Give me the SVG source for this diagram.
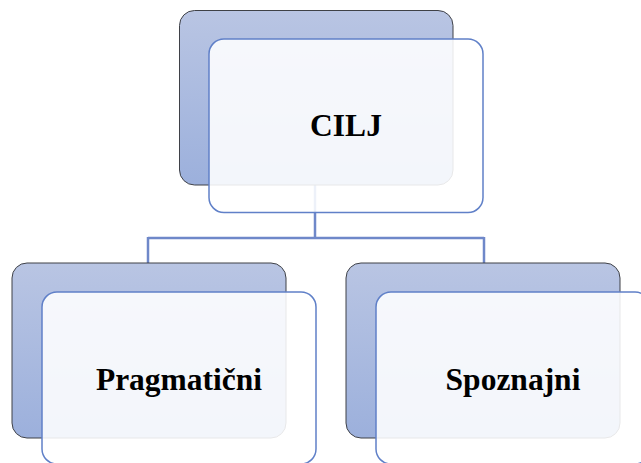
<svg xmlns="http://www.w3.org/2000/svg" width="641" height="463" viewBox="0 0 641 463">
<defs>
<linearGradient id="bg" x1="0" y1="0" x2="0" y2="1">
<stop offset="0" stop-color="#b9c5e3"/>
<stop offset="1" stop-color="#9cb0dc"/>
</linearGradient>
<style>
.back{fill:url(#bg);stroke:#3f4147;stroke-width:1}
.front{fill:#ffffff;fill-opacity:0.88;stroke:#6080c8;stroke-width:1.5}
.conn{fill:none;stroke:#6f88c9;stroke-width:2.5}
.lbl{font-family:"Liberation Serif","Times New Roman",serif;font-weight:bold;font-size:31.5px;fill:#000;text-anchor:middle}
</style>
</defs>
<rect width="641" height="463" fill="#ffffff"/>
<g id="connectors">
<path class="conn" d="M315,185 V238 M148,238 H484 M148,237 V263 M484,237 V263"/>
</g>
<g id="node-cilj">
<rect class="back" x="179.5" y="10.5" width="273.5" height="174.5" rx="15"/>
<rect class="front" x="209" y="39" width="274" height="173.5" rx="15"/>
<text class="lbl" x="346" y="136">CILJ</text>
</g>
<g id="node-pragmaticni">
<rect class="back" x="12" y="263" width="274" height="175" rx="15"/>
<rect class="front" x="42" y="292" width="274" height="172" rx="15"/>
<text class="lbl" x="179" y="390">Pragmatični</text>
</g>
<g id="node-spoznajni">
<rect class="back" x="346" y="263" width="274" height="175" rx="15"/>
<rect class="front" x="376" y="292" width="274" height="172" rx="15"/>
<text class="lbl" x="513" y="390">Spoznajni</text>
</g>
</svg>
